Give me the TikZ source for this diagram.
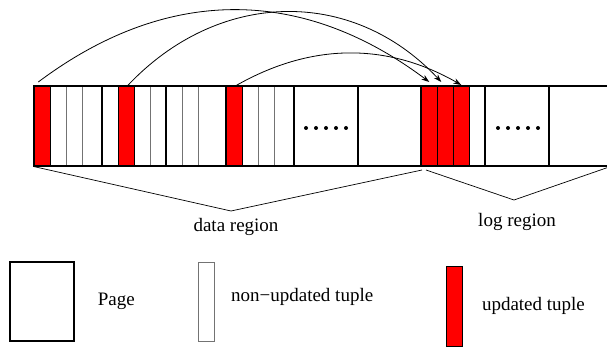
\documentclass[tikz,border=0pt]{standalone}
\usepackage{fontspec}
\setmainfont{Liberation Serif}
\usetikzlibrary{positioning,arrows.meta}

\begin{document}
\begin{tikzpicture}[
  x=1pt, y=-1pt,
  >={Stealth[length=8pt,width=5.5pt]},
  pagebox/.style={draw=black, line width=1.2pt},
  tuple/.style={draw=black!55, line width=0.8pt},
  upd/.style={rectangle, draw=black, fill=red, line width=0.6pt,
    inner sep=0pt, minimum width=16pt, minimum height=80pt},
  move/.style={->, line width=0.8pt},
  lab/.style={font=\fontsize{19}{22}\selectfont, inner sep=0pt}]

  \path[use as bounding box, clip] (0,0) rectangle (607,347);

  % tuples inside the pages
  \foreach \x in {66,82,150,182,198,258,274}
    \draw[tuple] (\x,86) -- (\x,166);

  \node[upd, anchor=north west] (u1) at (34,86) {};
  \node[upd, anchor=north west] (u2) at (118,86) {};
  \node[upd, anchor=north west] (u3) at (226,86) {};
  \node[upd, anchor=north west] (l1) at (421,86) {};
  \node[upd, anchor=north west] (l2) at (437,86) {};
  \node[upd, anchor=north west] (l3) at (453,86) {};

  % pages
  \foreach \a/\b in {34/102,102/166,166/226,226/294,294/358,358/421,
                     421/485,485/549,549/620}
    \draw[pagebox] (\a,86) rectangle (\b,166);

  \foreach \x in {306,316,...,346} \fill (\x,128) circle (2);
  \foreach \x in {498,508,...,538} \fill (\x,128) circle (2);

  % updates moved to the log
  \draw[move] ([xshift=-4pt,yshift=4pt]u1.north)
    .. controls +(128,-96) and +(-128,-96) .. ([yshift=4pt]l1.north);
  \draw[move] ([xshift=1pt]u2.north)
    .. controls +(90,-96) and +(-90,-96) .. ([xshift=-4pt,yshift=4pt]l2.north);
  \draw[move] ([xshift=1pt]u3.north)
    .. controls +(75,-43) and +(-75,-43) .. ([yshift=1pt]l3.north);

  % regions
  \coordinate (dm) at (231,211);
  \coordinate (dr) at (422,170);
  \coordinate (ll) at (426,170);
  \coordinate (lm) at (514,200);
  \coordinate (lr) at (612,166);
  \draw[line width=0.7pt] (u1.south west) -- (dm) -- (dr);
  \draw[line width=0.7pt] (ll) -- (lm) -- (lr);
  \node[lab] (dlab) at (236,227) {data region};
  \node[lab] (llab) at (517,222) {log region};

  % legend
  \node[pagebox, minimum width=64pt, minimum height=79pt] (kpage) at (42,301.5) {};
  \node[lab, right=23pt of kpage] (tpage) {Page};
  \node[tuple, minimum width=16pt, minimum height=79pt] (ktup) at (206,301.5) {};
  \node[lab, right=16.5pt of ktup, yshift=4.5pt] (ttup) {non−updated tuple};
  \node[upd] (kupd) at (454,306) {};
  \node[lab, right=19.5pt of kupd] (tupd) {updated tuple};
\end{tikzpicture}
\end{document}
